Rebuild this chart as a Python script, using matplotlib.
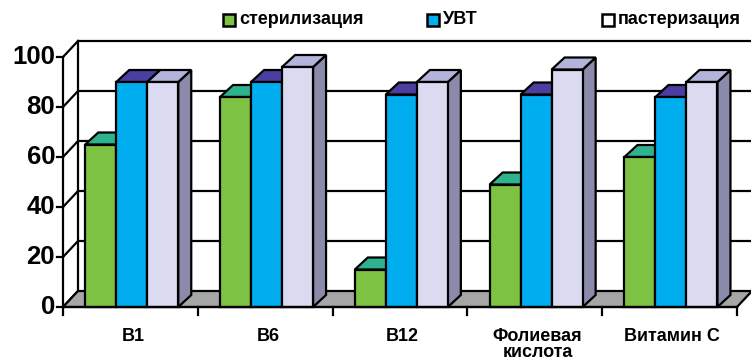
import matplotlib
matplotlib.use("Agg")
import matplotlib.pyplot as plt
from matplotlib.patches import Polygon, Rectangle

# ---- data ----
categories = ["B1", "B6", "B12", "Фолиевая\nкислота", "Витамин С"]
series_names = ["стерилизация", "УВТ", "пастеризация"]
sterilization = [65, 84, 15, 49, 60]
uvt = [90, 90, 85, 85, 84]
pasteurization = [90, 96, 90, 95, 90]
y_ticks = [0, 20, 40, 60, 80, 100]

series = [sterilization, uvt, pasteurization]
front_cols = ["#7dc242", "#00aeef", "#dadaf0"]
top_cols = ["#2fb28e", "#4a3ea0", "#b4b4da"]
side_cols = ["#5a9a30", "#2c4f8a", "#8a8aaa"]
floor_col = "#a6a6a6"

W, H = 751, 360
fig = plt.figure(figsize=(W / 100, H / 100), dpi=100)
ax_l, ax_r, ax_b, ax_t = 63, 737, 307, 57
ax = fig.add_axes([ax_l / W, (H - ax_b) / H, (ax_r - ax_l) / W, (ax_b - ax_t) / H])
n = len(categories)
ax.set_xlim(0, n)
ax.set_ylim(0, 100)
ax.axis("off")

pxx = (ax_r - ax_l) / n      # px per x unit
pxy = (ax_b - ax_t) / 100.0  # px per y unit
wdx, wdy = 15 / pxx, 16 / pxy   # wall depth
bdx, bdy = 13 / pxx, 12 / pxy   # bar depth
lw = 1.6
K = "black"
FAM = ["Liberation Sans", "DejaVu Sans"]

# back wall gridlines & top
for v in y_ticks[1:]:
    ax.plot([wdx, n + wdx], [v + wdy, v + wdy], color=K, lw=lw, clip_on=False, zorder=1,
            solid_capstyle="butt")
# back wall left edge
ax.plot([wdx, wdx], [wdy, 100 + wdy], color=K, lw=lw, clip_on=False, zorder=1)
# left wall diagonals
for v in y_ticks:
    ax.plot([0, wdx], [v, v + wdy], color=K, lw=lw, clip_on=False, zorder=1)
# floor
ax.add_patch(Polygon([(0, 0), (n, 0), (n + wdx, wdy), (wdx, wdy)], closed=True,
                     facecolor=floor_col, edgecolor=K, lw=lw, clip_on=False, zorder=2))

# bars
bw = 0.23
for i in range(n):
    for j, vals in enumerate(series):
        v = vals[i]
        x0 = i + 0.5 + 0.01 + (j - 1.5) * bw
        x1 = x0 + bw
        z = 3 + i * 3 + j
        ax.add_patch(Polygon([(x1, 0), (x1 + bdx, bdy), (x1 + bdx, v + bdy), (x1, v)],
                             closed=True, facecolor=side_cols[j], edgecolor=K, lw=lw,
                             clip_on=False, zorder=z))
        ax.add_patch(Polygon([(x0, v), (x1, v), (x1 + bdx, v + bdy), (x0 + bdx, v + bdy)],
                             closed=True, facecolor=top_cols[j], edgecolor=K, lw=lw,
                             clip_on=False, zorder=z))
        ax.add_patch(Rectangle((x0, 0), bw, v, facecolor=front_cols[j], edgecolor=K, lw=lw,
                               clip_on=False, zorder=z))

# axes lines
ax.plot([0, 0], [0, 100], color=K, lw=lw, clip_on=False, zorder=30)
ax.plot([0, n], [0, 0], color=K, lw=lw, clip_on=False, zorder=30)
for v in y_ticks:
    ax.plot([-6 / pxx, 0], [v, v], color=K, lw=lw, clip_on=False, zorder=30)
    ax.text(-8 / pxx, v, str(v), ha="right", va="center", fontsize=18.5, fontweight="bold",
            family=FAM)
for k in range(n + 1):
    ax.plot([k, k], [0, -8 / pxy], color=K, lw=lw, clip_on=False, zorder=30)
for i, c in enumerate(categories):
    ax.text(i + 0.52, -21 / pxy, c, ha="center", va="top", fontsize=13, fontweight="bold",
            linespacing=0.95, family=FAM)

# legend
leg_x = [223, 427, 602]
leg_fill = ["#7dc242", "#00aeef", "#ffffff"]
for x, name, fc in zip(leg_x, series_names, leg_fill):
    fig.patches.append(Rectangle((x / W, (H - 26) / H), 12 / W, 12 / H, transform=fig.transFigure,
                                 facecolor=fc, edgecolor=K, lw=1.8))
    fig.text((x + 16) / W, (H - 20) / H, name, ha="left", va="center", fontsize=13,
             fontweight="bold", family=FAM)

fig.savefig("out.png", dpi=100)
